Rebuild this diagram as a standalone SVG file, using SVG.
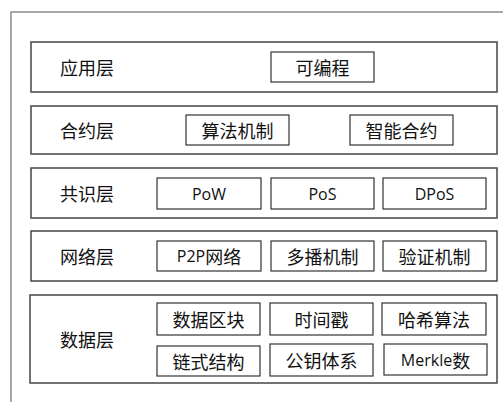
<svg xmlns="http://www.w3.org/2000/svg" width="503" height="402" viewBox="0 0 503 402">
<style>
.frame{fill:none;stroke:#8c8c8c;stroke-width:1.5}
.layer{fill:#fff;stroke:#444;stroke-width:1.5}
.box{fill:#fff;stroke:#333;stroke-width:1.2}
.lbl{font-family:"Noto Sans CJK SC","Liberation Sans",sans-serif;font-size:18px;fill:#111;dominant-baseline:central}
.t{font-family:"Noto Sans CJK SC","Liberation Sans",sans-serif;font-size:18px;fill:#111;text-anchor:middle;dominant-baseline:central}
.e{font-family:"Open Sans","Liberation Sans",sans-serif;font-size:16px;font-weight:500;fill:#111;text-anchor:middle;dominant-baseline:central}
.lt{font-family:"Open Sans","Liberation Sans",sans-serif;font-size:16px;font-weight:500}
</style>
<rect width="503" height="402" fill="#fff"/>
<path class="frame" d="M11,410 V12 H510"/>
<g id="app">
<rect class="layer" x="31" y="42" width="466" height="50"/>
<text class="lbl" x="60" y="67">应用层</text>
<g id="app-prog"><rect class="box" x="271" y="52" width="103" height="30"/><text class="t" x="322.5" y="67">可编程</text></g>
</g>
<g id="contract">
<rect class="layer" x="31" y="106" width="466" height="48"/>
<text class="lbl" x="60" y="130">合约层</text>
<g id="algo"><rect class="box" x="186" y="115" width="103" height="30"/><text class="t" x="237.5" y="130">算法机制</text></g>
<g id="smart"><rect class="box" x="350" y="115" width="103" height="30"/><text class="t" x="401.5" y="130">智能合约</text></g>
</g>
<g id="consensus">
<rect class="layer" x="31" y="168" width="466" height="50"/>
<text class="lbl" x="60" y="193">共识层</text>
<g id="pow"><rect class="box" x="157" y="178" width="104" height="31"/><text class="e" x="209" y="193.5">PoW</text></g>
<g id="pos"><rect class="box" x="271" y="178" width="103" height="31"/><text class="e" x="322.5" y="193.5">PoS</text></g>
<g id="dpos"><rect class="box" x="383" y="178" width="103" height="31"/><text class="e" x="434.5" y="193.5">DPoS</text></g>
</g>
<g id="network">
<rect class="layer" x="31" y="231" width="466" height="50"/>
<text class="lbl" x="60" y="256">网络层</text>
<g id="p2p"><rect class="box" x="157" y="241" width="104" height="30"/><text class="t" x="209" y="256"><tspan class="lt">P2P</tspan>网络</text></g>
<g id="multicast"><rect class="box" x="271" y="241" width="103" height="30"/><text class="t" x="322.5" y="256">多播机制</text></g>
<g id="verify"><rect class="box" x="383" y="241" width="103" height="30"/><text class="t" x="434.5" y="256">验证机制</text></g>
</g>
<g id="data">
<rect class="layer" x="30" y="295" width="467" height="88"/>
<text class="lbl" x="60" y="339">数据层</text>
<g id="block"><rect class="box" x="157" y="303" width="103" height="32"/><text class="t" x="208.5" y="319">数据区块</text></g>
<g id="timestamp"><rect class="box" x="270" y="303" width="103" height="32"/><text class="t" x="321.5" y="319">时间戳</text></g>
<g id="hash"><rect class="box" x="382" y="303" width="104" height="32"/><text class="t" x="434" y="319">哈希算法</text></g>
<g id="chain"><rect class="box" x="157" y="346" width="103" height="30"/><text class="t" x="208.5" y="361">链式结构</text></g>
<g id="pubkey"><rect class="box" x="270" y="344" width="103" height="32"/><text class="t" x="321.5" y="360">公钥体系</text></g>
<g id="merkle"><rect class="box" x="384" y="344" width="103" height="31"/><text class="t" x="435.5" y="359.5"><tspan class="lt">Merkle</tspan>数</text></g>
</g>
<g id="connectors"/>
</svg>
